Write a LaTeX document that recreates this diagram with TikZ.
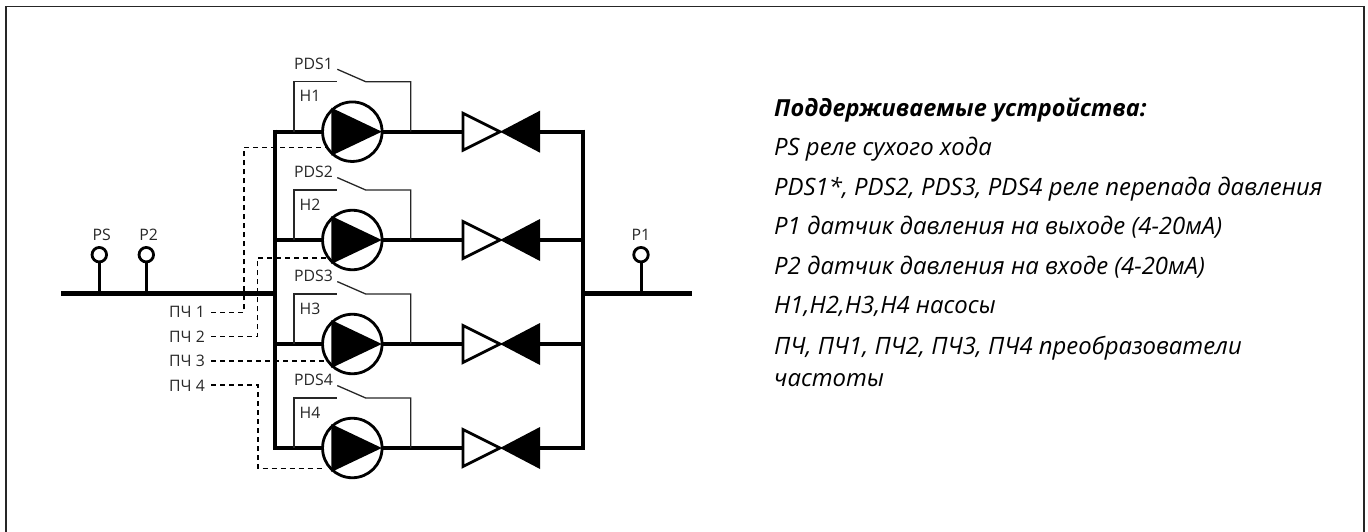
\documentclass[tikz,border=0pt]{standalone}
\usepackage{fontspec}
\setmainfont{Open Sans}
\usetikzlibrary{calc}
\tikzset{
  frameline/.style={line width=1.5pt,draw=black!85},
  pipe/.style={line width=4.2pt,draw=black},
  stem/.style={line width=3pt,draw=black},
  pumpc/.style={circle,draw=black,line width=2.8pt,fill=white,minimum size=59.5pt,inner sep=0pt,outer sep=0pt},
  sensorc/.style={circle,draw=black,line width=2.8pt,fill=white,minimum size=14.5pt,inner sep=0pt,outer sep=0pt},
  valveedge/.style={line width=2.8pt,draw=black,fill=white,line join=miter},
  thin line/.style={line width=1.3pt,draw=black!85},
  dashline/.style={line width=1.25pt,draw=black,dash pattern=on 5pt off 4pt},
  lab/.style={inner sep=0pt,anchor=base west,font=\fontsize{15.8}{18}\selectfont,text=black!85},
  clab/.style={inner sep=0pt,anchor=base,font=\fontsize{15.8}{18}\selectfont,text=black!85},
  legend/.style={inner sep=0pt,anchor=base west,font=\fontsize{23.9}{26}\selectfont\itshape,text=black},
}
\begin{document}
\begin{tikzpicture}[x=1pt,y=-1pt]
\useasboundingbox (0,0) rectangle (1368,532);
% frame
\coordinate (fa) at (6,533);
\coordinate (fb) at (6,6.7);
\coordinate (fc) at (1364,6.7);
\coordinate (fd) at (1364,533);
\begin{scope}
\clip (0,0) rectangle (1368,532);
\draw[frameline] (fa) -- (fb) -- (fc) -- (fd);
\end{scope}
% headers and risers
\coordinate (hl) at (61,293.5);
\coordinate (hm) at (275,293.5);
\coordinate (hn) at (583,293.5);
\coordinate (hr) at (692,293.5);
\coordinate (tl) at (275,131.7);
\coordinate (bl) at (275,448);
\coordinate (tr) at (583,131.7);
\coordinate (br) at (583,448);
% sensors
\node[sensorc] (ps) at (99.3,254.7) {};
\node[sensorc] (p2) at (146.3,254.7) {};
\node[sensorc] (p1) at (641,254.7) {};
\draw[stem] (ps.south) -- (ps.south |- hl);
\draw[stem] (p2.south) -- (p2.south |- hl);
\draw[stem] (p1.south) -- (p1.south |- hr);
\draw[pipe] (hl) -- (hm);
\draw[pipe] (hn) -- (hr);
\draw[pipe,line join=miter] ($(tl)+(0,-2.1)$) -- ($(bl)+(0,2.1)$);
\draw[pipe,line width=3.6pt] ($(tr)+(0,-2.1)$) -- ($(br)+(0,2.1)$);
\node[clab] (lps) at (101.7,240) {PS};
\node[clab] (lp2) at (148.7,240) {P2};
\node[clab] (lp1) at (641,240) {P1};
% rows
\foreach \r/\y in {1/131.7,2/240,3/344,4/448}{
  \coordinate (L\r) at (275,\y);
  \coordinate (R\r) at (583,\y);
  \coordinate (VL\r) at (463,\y);
  \coordinate (VR\r) at (540,\y);
  \coordinate (VC\r) at (500,\y);
  \coordinate (Ra\r) at (294,\y);
  \coordinate (Rb\r) at (294,\y-50);
  \coordinate (Rc\r) at (336.7,\y-50);
  \coordinate (Rd\r) at (337.3,\y-62.4);
  \coordinate (Re\r) at (365.7,\y-50);
  \coordinate (Rf\r) at (410.7,\y-50);
  \coordinate (Rg\r) at (410.7,\y);
  \draw[pipe] (L\r) -- (VL\r);
  \draw[pipe] (VR\r) -- (R\r);
  \draw[thin line] (Ra\r) -- (Rb\r) -- (Rc\r);
  \draw[thin line] (Rd\r) -- (Re\r) -- (Rf\r) -- (Rg\r);
  \node[pumpc] (pump\r) at (352.3,\y) {};
  \fill[black] ($(pump\r)+(-21,-24)$) -- ($(pump\r)+(29.5,0)$) -- ($(pump\r)+(-21,24)$) -- cycle;
  \draw[valveedge] ($(VL\r)+(0,-18.5)$) -- (VC\r) -- ($(VL\r)+(0,18.5)$) -- cycle;
  \fill[black] (VC\r) -- ($(VR\r)+(0,-21)$) -- ($(VR\r)+(0,21)$) -- cycle;
  \node[lab] (pds\r) at (294,\y-62.4) {PDS\r};
  \node[lab] (n\r) at (299.5,\y-29.7) {Н\r};
}
% dashed signal lines
\coordinate (d1a) at (244,312.3);
\coordinate (d1b) at (244,147.7);
\coordinate (d1c) at (327,147.7);
\coordinate (d2a) at (257.7,336.7);
\coordinate (d2b) at (257.7,258);
\coordinate (d2c) at (327,258);
\coordinate (d3c) at (327,361);
\coordinate (d4a) at (258,385);
\coordinate (d4b) at (258,468.3);
\coordinate (d4c) at (323,468.3);
\node[lab,anchor=base east] (f1) at (205,317.7) {ПЧ 1};
\node[lab,anchor=base east] (f2) at (205,342.3) {ПЧ 2};
\node[lab,anchor=base east] (f3) at (205,366.7) {ПЧ 3};
\node[lab,anchor=base east] (f4) at (205,391) {ПЧ 4};
\coordinate (f1e) at (211,312.3);
\coordinate (f2e) at (211,336.7);
\coordinate (f3e) at (211,361);
\coordinate (f4e) at (211,385);
\draw[dashline] (f1e) -- (d1a) -- (d1b) -- (d1c);
\draw[dashline] (f2e) -- (d2a) -- (d2b) -- (d2c);
\draw[dashline] (f3e) -- (d3c);
\draw[dashline] (f4e) -- (d4a) -- (d4b) -- (d4c);
% legend
\node[legend,font=\fontsize{23.5}{26}\selectfont\bfseries\itshape] (t0) at (774,116.7) {Поддерживаемые устройства:};
\node[legend] (t1) at (774,156) {PS реле сухого хода};
\node[legend] (t2) at (774,195) {PDS1*, PDS2, PDS3, PDS4 реле перепада давления};
\node[legend] (t3) at (774,234) {P1 датчик давления на выходе (4-20мА)};
\node[legend] (t4) at (774,274) {P2 датчик давления на входе (4-20мА)};
\node[legend] (t5) at (774,313) {Н1,Н2,Н3,Н4 насосы};
\node[legend] (t6) at (774,354) {ПЧ, ПЧ1, ПЧ2, ПЧ3, ПЧ4 преобразователи};
\node[legend] (t7) at (774,386) {частоты};
\end{tikzpicture}
\end{document}
